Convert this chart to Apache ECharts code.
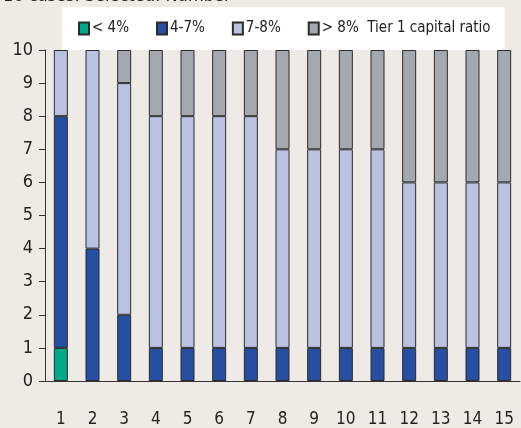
<!DOCTYPE html>
<html>
<head>
<meta charset="utf-8">
<script src="https://cdn.jsdelivr.net/npm/echarts@6/dist/echarts.min.js"></script>
<style>
  html, body { margin: 0; padding: 0; background: #eeebe7; }
  #container { width: 521px; height: 428px; }
</style>
</head>
<body>
<div id="container"></div>
<script>
var categories = ['1', '2', '3', '4', '5', '6', '7', '8', '9', '10', '11', '12', '13', '14', '15'];
var below4 = [1, 0, 0, 0, 0, 0, 0, 0, 0, 0, 0, 0, 0, 0, 0];
var from4to7 = [7, 4, 2, 1, 1, 1, 1, 1, 1, 1, 1, 1, 1, 1, 1];
var from7to8 = [2, 6, 7, 7, 7, 7, 7, 6, 6, 6, 6, 5, 5, 5, 5];
var above8 = [0, 0, 1, 2, 2, 2, 2, 3, 3, 3, 3, 4, 4, 4, 4];

var font = '"DejaVu Sans Condensed", "Liberation Sans Narrow", "Arial Narrow", sans-serif';
var myChart = echarts.init(document.getElementById('container'));

// 零值不画，避免多出一条边线
function clean(arr) {
  return arr.map(function (v) { return v === 0 ? '-' : v; });
}

function barSeries(name, data, color) {
  return {
    name: name,
    type: 'bar',
    stack: 'total',
    barWidth: 14,
    data: clean(data),
    itemStyle: { color: color, borderColor: '#2b2b2b', borderWidth: 1 }
  };
}

myChart.setOption({
  backgroundColor: '#eeebe7',
  animation: false,
  title: {
    text: '16 cases. Selected: Number',
    left: -2,
    top: -18,
    textStyle: { fontFamily: font, fontSize: 18, fontWeight: 'normal', color: '#222' }
  },
  legend: {
    left: 62,
    top: 7,
    backgroundColor: '#fff',
    padding: [14, 14, 14, 16],
    icon: 'rect',
    itemWidth: 10,
    itemHeight: 12,
    itemGap: 27,
    textStyle: { fontFamily: font, fontSize: 15, color: '#222', padding: [0, 0, 0, -2] },
    formatter: function (name) {
      return name === '> 8%' ? name + '  Tier 1 capital ratio' : name;
    }
  },
  grid: { left: 45, right: 1, top: 50, bottom: 44 },
  xAxis: {
    type: 'category',
    data: categories,
    axisLine: { lineStyle: { color: '#333', width: 1 } },
    axisTick: { length: 6, lineStyle: { color: '#333' } },
    axisLabel: { margin: 30, fontFamily: font, fontSize: 17, color: '#222' }
  },
  yAxis: {
    type: 'value',
    min: 0,
    max: 10,
    interval: 1,
    splitLine: { show: false },
    axisLine: { show: true, lineStyle: { color: '#333', width: 1 } },
    axisTick: { show: true, length: 6, lineStyle: { color: '#333' } },
    axisLabel: { margin: 12, fontFamily: font, fontSize: 18, color: '#222' }
  },
  series: [
    barSeries('< 4%', below4, '#00a88a'),
    barSeries('4-7%', from4to7, '#264ea1'),
    barSeries('7-8%', from7to8, '#b9c3e1'),
    barSeries('> 8%', above8, '#a3a9ae')
  ]
});
</script>
</body>
</html>
